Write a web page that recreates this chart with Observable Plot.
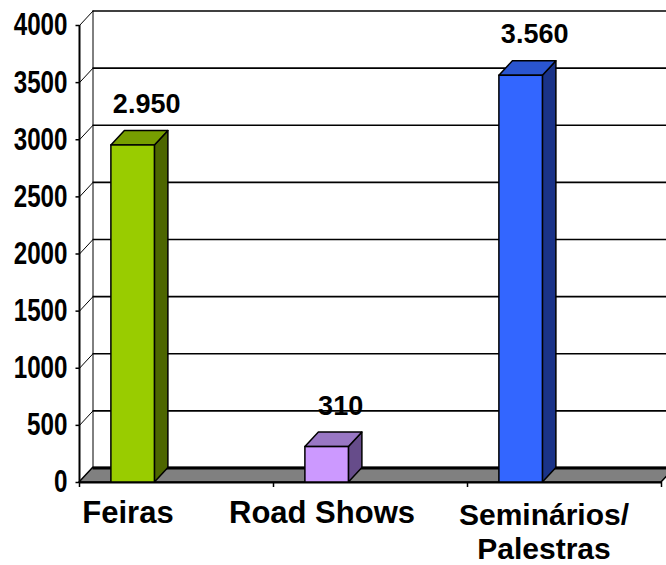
<!DOCTYPE html>
<html>
<head>
<meta charset="utf-8">
<script src="https://cdn.jsdelivr.net/npm/d3@7"></script>
<script src="https://cdn.jsdelivr.net/npm/@observablehq/plot@0.6"></script>
<style>
  html, body { margin: 0; padding: 0; background: #fff; overflow: hidden; }
</style>
</head>
<body>
<div id="chart"></div>
<script>
// ---- data ----
const categories = ["Feiras", "Road Shows", "Seminários/\nPalestras"];
const values = [2950, 310, 3560];
const yTicks = [0, 500, 1000, 1500, 2000, 2500, 3000, 3500, 4000];

// ---- styles ----
const frontColors = ["#99CC00", "#CC99FF", "#3366FF"];
const topColors = ["#779E00", "#9977C4", "#2A55D0"];
const sideColors = ["#4D6600", "#664C8A", "#1A3388"];

// ---- layout ----
const W = 666, H = 565;
const mL = 79, mR = 5, mT = 25, mB = 83;
const xDomain = [0, 3], yDomain = [0, 4000];
const pxPerX = (W - mL - mR) / (xDomain[1] - xDomain[0]);
const pxPerY = (H - mT - mB) / (yDomain[1] - yDomain[0]);
const DXu = 13.5 / pxPerX;      // depth (horizontal) in x units
const DYu = 14.5 / pxPerY;      // depth (vertical) in y units
const OFF = 0.2765;             // bar centre within category slot
const HW = 21.75 / pxPerX;      // bar half width

const ptbr = d3.formatLocale({decimal: ",", thousands: ".", grouping: [3], currency: ["R$", ""]});
const fmt = ptbr.format(",");

const bars = categories.map((c, i) => ({
  c, i, v: values[i],
  x1: i + OFF - HW, x2: i + OFF + HW,
  front: frontColors[i], top: topColors[i], side: sideColors[i]
}));
const sidePts = bars.flatMap(b => [
  {c: b.c, x: b.x2, y1: 0, y2: b.v, fill: b.side},
  {c: b.c, x: b.x2 + DXu, y1: DYu, y2: b.v + DYu, fill: b.side}
]);
const topPts = bars.flatMap(b => [
  {c: b.c, y: b.v, x1: b.x1, x2: b.x2, fill: b.top},
  {c: b.c, y: b.v + DYu, x1: b.x1 + DXu, x2: b.x2 + DXu, fill: b.top}
]);
const floorPts = [
  {y: 0, x1: xDomain[0], x2: xDomain[1]},
  {y: DYu, x1: xDomain[0] + DXu, x2: xDomain[1] + DXu}
];

const chart = Plot.plot({
  width: W, height: H,
  marginLeft: mL, marginRight: mR, marginTop: mT, marginBottom: mB,
  x: {domain: xDomain, axis: null},
  y: {domain: yDomain, axis: null},
  style: {fontFamily: "'Liberation Sans', Arial, sans-serif", color: "#000", background: "#fff", overflow: "hidden"},
  marks: [
    // left wall diagonals
    Plot.link(yTicks, {x1: 0, y1: d => d, x2: DXu, y2: d => d + DYu, stroke: "#000", strokeWidth: 1}),
    // back wall gridlines
    Plot.ruleY(yTicks, {y: d => d + DYu, x1: DXu, x2: xDomain[1] + DXu + 0.2, stroke: "#000", strokeWidth: 1.6}),
    // back wall left edge
    Plot.ruleX([DXu], {y1: DYu, y2: yDomain[1] + DYu, stroke: "#000", strokeWidth: 1}),
    // floor
    Plot.areaX(floorPts, {y: "y", x1: "x1", x2: "x2", fill: "#808080", stroke: "#000", strokeWidth: 1.5}),
    Plot.ruleY([DYu], {x1: DXu, x2: xDomain[1] + DXu + 0.2, stroke: "#000", strokeWidth: 3}),
    Plot.ruleY([0], {x1: xDomain[0], x2: xDomain[1], stroke: "#000", strokeWidth: 2}),
    // bars: side, top, front
    Plot.areaY(sidePts, {x: "x", y1: "y1", y2: "y2", z: "c", fill: "fill", stroke: "#000", strokeWidth: 1.5, strokeLinejoin: "round"}),
    Plot.areaX(topPts, {y: "y", x1: "x1", x2: "x2", z: "c", fill: "fill", stroke: "#000", strokeWidth: 1.5, strokeLinejoin: "round"}),
    Plot.rect(bars, {x1: "x1", x2: "x2", y1: 0, y2: "v", fill: "front", stroke: "#000", strokeWidth: 1.5}),
    // front value axis
    Plot.ruleX([0], {y1: 0, y2: yDomain[1], stroke: "#000", strokeWidth: 2}),
    Plot.link(yTicks, {x1: 0, x2: -4 / pxPerX, y1: d => d, y2: d => d, stroke: "#000", strokeWidth: 1.5}),
    Plot.text(yTicks, {x: 0, y: d => d, text: d => String(d), dx: -12, textAnchor: "end", lineAnchor: "middle",
      fontSize: 31, fontWeight: "bold", fill: "#000", className: "ytick-label"}),
    // category axis ticks
    Plot.ruleX([0, 1, 2, 3], {y1: 0, y2: -5 / pxPerY, stroke: "#000", strokeWidth: 1.5}),
    // category labels
    Plot.text(bars.slice(0, 2), {x: d => d.i + 0.25, y: 0, text: "c", dy: 18, textAnchor: "middle", lineAnchor: "top",
      fontSize: 31, fontWeight: "bold", fill: "#000"}),
    Plot.text(bars.slice(2), {x: d => d.i + 0.25, y: 0, text: "c", dx: 28, dy: 19, textAnchor: "middle", lineAnchor: "top",
      fontSize: 30, fontWeight: "bold", lineHeight: 1.12, fill: "#000"}),
    // value labels
    Plot.text(bars, {x: d => d.i + OFF + DXu, y: "v", text: d => fmt(d.v), dy: -41, textAnchor: "middle", lineAnchor: "middle",
      fontSize: 27, fontWeight: "bold", fill: "#000"})
  ]
});
document.getElementById("chart").appendChild(chart);
// condense the value-axis tick labels horizontally, as in the reference
chart.querySelectorAll(".ytick-label text").forEach(t => {
  const w = t.getComputedTextLength();
  t.setAttribute("textLength", (w * 0.78).toFixed(1));
  t.setAttribute("lengthAdjust", "spacingAndGlyphs");
});
</script>
</body>
</html>
